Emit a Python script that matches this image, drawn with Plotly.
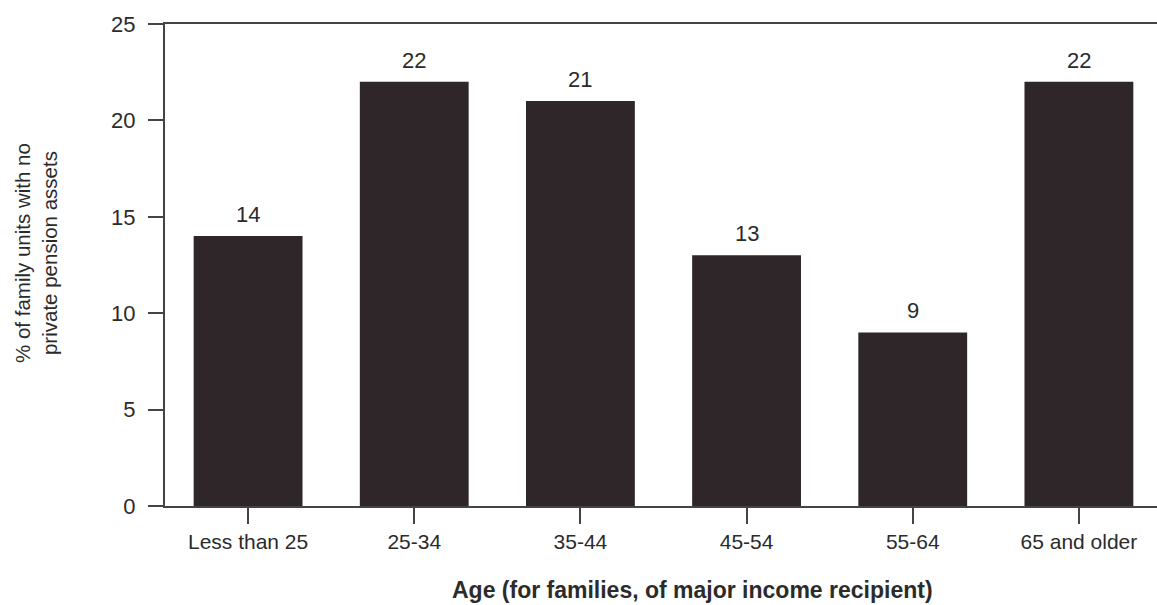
import plotly.graph_objects as go

# Share of family units with no private pension assets, by age group
age_groups = ["Less than 25", "25-34", "35-44", "45-54", "55-64", "65 and older"]
pct_no_pension = [14, 22, 21, 13, 9, 22]
y_ticks = [0, 5, 10, 15, 20, 25]

FONT = "Liberation Sans, Arial, Helvetica, sans-serif"
TEXT = "#2b2b2b"
AXIS = "#444444"
BAR = "#2e2628"

fig = go.Figure(
    go.Bar(
        x=list(range(len(age_groups))),
        y=pct_no_pension,
        marker=dict(color=BAR, line=dict(width=0)),
        width=0.655,
        hoverinfo="skip",
    )
)

# value labels above each bar
for i, v in enumerate(pct_no_pension):
    fig.add_annotation(
        x=i, y=v, xref="x", yref="y",
        text=str(v), showarrow=False,
        xanchor="center", yanchor="bottom", yshift=7,
        font=dict(family=FONT, size=22, color=TEXT),
    )

# axis titles
fig.add_annotation(
    x=-0.130, y=0.525, xref="paper", yref="paper",
    xanchor="center", yanchor="middle",
    text="% of family units with no<br>private pension assets",
    textangle=-90, showarrow=False,
    font=dict(family=FONT, size=20.5, color=TEXT),
)
fig.add_annotation(
    x=0.532, y=-0.174, xref="paper", yref="paper",
    xanchor="center", yanchor="middle",
    text="<b>Age (for families, of major income recipient)</b>",
    showarrow=False,
    font=dict(family=FONT, size=23, color=TEXT),
)

fig.update_layout(
    width=1157, height=605,
    margin=dict(l=165, r=0, t=24, b=99),
    paper_bgcolor="white", plot_bgcolor="white",
    showlegend=False,
    font=dict(family=FONT, size=21, color=TEXT),
)

fig.update_xaxes(
    range=[-0.5, 5.47],
    tickmode="array",
    tickvals=list(range(len(age_groups))),
    ticktext=age_groups,
    ticks="outside", ticklen=16, tickwidth=1.5, tickcolor=AXIS,
    showline=True, linecolor=AXIS, linewidth=2, mirror=True,
    showgrid=False, zeroline=False,
    tickfont=dict(family=FONT, size=21, color=TEXT),
)
fig.update_yaxes(
    range=[0, 25],
    tickmode="array", tickvals=y_ticks,
    ticks="outside", ticklen=15, tickwidth=1.5, tickcolor=AXIS,
    ticklabelstandoff=8,
    showline=True, linecolor=AXIS, linewidth=2,
    showgrid=False, zeroline=False,
    tickfont=dict(family=FONT, size=22, color=TEXT),
)

fig.write_html("out.html")
